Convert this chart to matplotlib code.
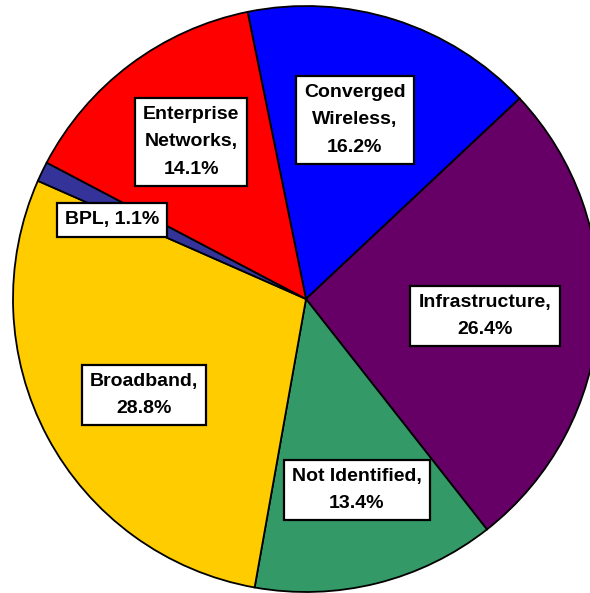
import matplotlib.pyplot as plt

# Datos
categorias = ["Converged\nWireless", "Infrastructure", "Not Identified", "Broadband", "BPL", "Enterprise\nNetworks"]
porcentajes = [16.2, 26.4, 13.4, 28.8, 1.1, 14.1]
colores = ["#0000FF", "#660066", "#339966", "#FFCC00", "#333399", "#FF0000"]

# Posiciones de las etiquetas (coordenadas del eje)
pos_etiquetas = [(0.167, 0.611), (0.611, -0.058), (0.174, -0.652),
                 (-0.553, -0.328), (-0.662, 0.270), (-0.392, 0.536)]

plt.rcParams["font.family"] = ["Liberation Sans", "DejaVu Sans"]

fig = plt.figure(figsize=(5.90, 5.93), dpi=100)
ax = fig.add_axes([0, 0, 1, 1])

ax.pie(porcentajes, colors=colores, startangle=101.5, counterclock=False,
       radius=1, center=(0, 0),
       wedgeprops={"edgecolor": "black", "linewidth": 1.3})

for cat, pct, (x, y) in zip(categorias, porcentajes, pos_etiquetas):
    if cat == "BPL":
        texto = f"{cat}, {pct}%"
    else:
        texto = f"{cat},\n{pct}%"
    ax.text(x, y, texto, ha="center", va="center", fontsize=14,
            fontweight="bold", linespacing=1.8,
            bbox={"boxstyle": "square,pad=0.42", "facecolor": "white",
                  "edgecolor": "black", "linewidth": 1.6})

# Encuadre: centro en (306, 299) px, radio 293 px
ax.set_xlim(-306 / 293, (590 - 306) / 293)
ax.set_ylim(-(593 - 299) / 293, 299 / 293)
ax.set_aspect("auto")
ax.axis("off")

fig.savefig("out.png", dpi=100)
